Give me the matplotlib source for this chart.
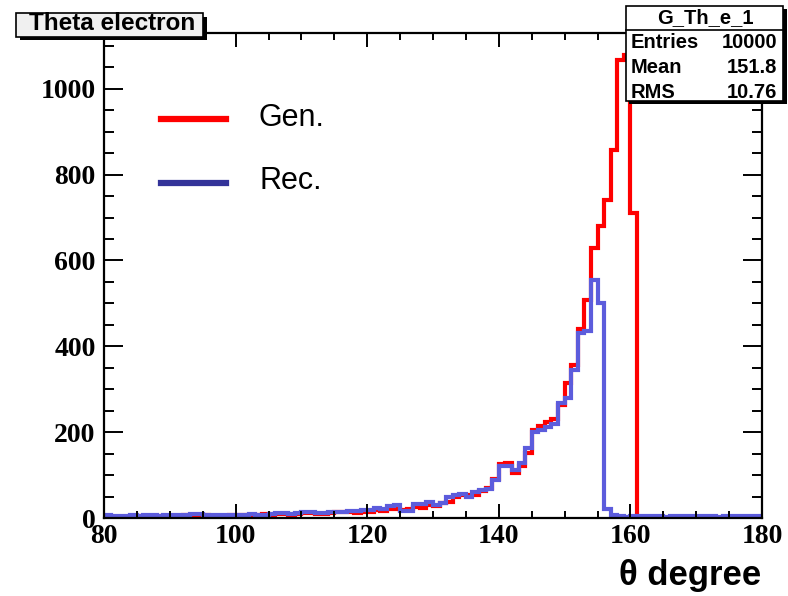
import numpy as np
import matplotlib
matplotlib.use("Agg")
import matplotlib.pyplot as plt
from matplotlib.patches import Rectangle
from matplotlib.ticker import MultipleLocator

# Histogram binning: 1 degree bins from 80 to 180
bin_edges = np.arange(80, 181, 1)

# Generated theta (red)
gen_counts = [
    4, 2, 1, 0, 3, 4, 3, 5, 4, 3,          # 80-89
    5, 4, 6, 5, 4, 6, 5, 4, 5, 6,          # 90-99
    7, 6, 5, 8, 9, 8, 10, 9, 8, 10,        # 100-109
    11, 12, 10, 9, 12, 13, 14, 15, 12, 15, # 110-119
    13, 18, 16, 22, 20, 18, 22, 26, 24, 30, # 120-129
    28, 35, 38, 50, 53, 53, 53, 62, 71, 90, # 130-139
    125, 127, 104, 120, 152, 205, 215, 224, 231, 263,  # 140-149
    314, 357, 440, 508, 629, 680, 741, 858, 1068, 1078, # 150-159
    710, 0, 1, 0, 0, 1, 0, 0, 1, 0,        # 160-169
    0, 1, 0, 0, 0, 1, 0, 0, 0, 0,          # 170-179
]

# Reconstructed theta (blue)
rec_counts = [
    7, 5, 4, 5, 6, 5, 7, 6, 5, 6,
    7, 8, 6, 9, 10, 8, 7, 8, 7, 6,
    8, 7, 9, 8, 7, 10, 12, 11, 10, 12,
    13, 14, 12, 11, 14, 15, 13, 16, 17, 18,
    19, 24, 20, 28, 30, 16, 17, 32, 33, 38,
    30, 35, 50, 53, 55, 50, 60, 66, 68, 88,
    121, 121, 113, 129, 162, 200, 205, 213, 219, 268,
    280, 345, 431, 435, 555, 500, 22, 6, 4, 3,
    4, 5, 4, 5, 4, 3, 5, 4, 4, 5,
    4, 5, 4, 3, 4, 5, 4, 4, 5, 4,
]

x_ticks = [80, 100, 120, 140, 160, 180]
y_ticks = [0, 200, 400, 600, 800, 1000]

W, H = 788, 596


def fx(px):
    return px / W


def fy(py):
    return 1 - py / H


fig = plt.figure(figsize=(W / 100, H / 100), dpi=100)
ax = fig.add_axes([fx(104), fy(518), (762 - 104) / W, (518 - 33) / H])

ax.stairs(gen_counts, bin_edges, baseline=None, color="#ff0000", linewidth=3)
ax.stairs(rec_counts, bin_edges, baseline=None, color="#5c5cdc", linewidth=3)

ax.set_xlim(80, 180)
ax.set_ylim(0, 1130)
ax.set_xticks(x_ticks)
ax.set_yticks(y_ticks)
ax.xaxis.set_minor_locator(MultipleLocator(5))
ax.yaxis.set_minor_locator(MultipleLocator(50))

tick_font = dict(family="Liberation Serif", weight="bold", size=20)
ax.set_xticklabels([str(v) for v in x_ticks], fontdict=tick_font)
ax.set_yticklabels([str(v) for v in y_ticks], fontdict=tick_font)

ax.tick_params(axis="both", which="both", direction="in", top=True, right=True,
               width=1.4, color="black")
ax.tick_params(axis="x", which="major", length=10, pad=4)
ax.tick_params(axis="x", which="minor", length=5)
ax.tick_params(axis="y", which="major", length=14, pad=6)
ax.tick_params(axis="y", which="minor", length=7)
for sp in ax.spines.values():
    sp.set_linewidth(1.6)

# x axis title
fig.text(fx(761), fy(575), "θ degree", ha="right", va="center",
         fontsize=25, fontweight="bold", family="Liberation Sans")

# legend
fig.add_artist(plt.Line2D([fx(161), fx(226)], [fy(119), fy(119)],
                          color="#ff0000", linewidth=4.5, transform=fig.transFigure))
fig.add_artist(plt.Line2D([fx(161), fx(226)], [fy(183), fy(183)],
                          color="#333399", linewidth=4.5, transform=fig.transFigure))
fig.text(fx(259), fy(118), "Gen.", ha="left", va="center", fontsize=22,
         family="Liberation Sans")
fig.text(fx(259), fy(181), "Rec.", ha="left", va="center", fontsize=22,
         family="Liberation Sans")

# title box with shadow
fig.add_artist(Rectangle((fx(20), fy(40)), (207 - 20) / W, (40 - 17) / H,
                         transform=fig.transFigure, facecolor="black",
                         edgecolor="none", zorder=5))
fig.add_artist(Rectangle((fx(16), fy(37)), (203 - 16) / W, (37 - 13) / H,
                         transform=fig.transFigure, facecolor="#f0f0f0",
                         edgecolor="black", linewidth=1.2, zorder=6))
fig.text(fx(112), fy(24), "Theta electron", ha="center", va="center",
         fontsize=17.5, fontweight="heavy", family="Liberation Sans", zorder=7)

# stats box with shadow
fig.add_artist(Rectangle((fx(629), fy(104)), (787 - 629) / W, (104 - 9) / H,
                         transform=fig.transFigure, facecolor="black",
                         edgecolor="none", zorder=5))
fig.add_artist(Rectangle((fx(626), fy(101)), (783 - 626) / W, (101 - 6) / H,
                         transform=fig.transFigure, facecolor="white",
                         edgecolor="black", linewidth=1.2, zorder=6))
fig.add_artist(plt.Line2D([fx(626), fx(783)], [fy(30), fy(30)], color="black",
                          linewidth=1.2, transform=fig.transFigure, zorder=7))
stat_font = dict(fontsize=14.5, fontweight="bold", family="Liberation Sans", zorder=7)
fig.text(fx(705), fy(18), "G_Th_e_1", ha="center", va="center", **stat_font)
stat_names = ["Entries", "Mean", "RMS"]
stat_values = ["10000", "151.8", "10.76"]
for i, (n, v) in enumerate(zip(stat_names, stat_values)):
    yy = 43 + i * 24.5
    fig.text(fx(631), fy(yy), n, ha="left", va="center", **stat_font)
    fig.text(fx(777), fy(yy), v, ha="right", va="center", **stat_font)

fig.savefig("out.png", dpi=100)
